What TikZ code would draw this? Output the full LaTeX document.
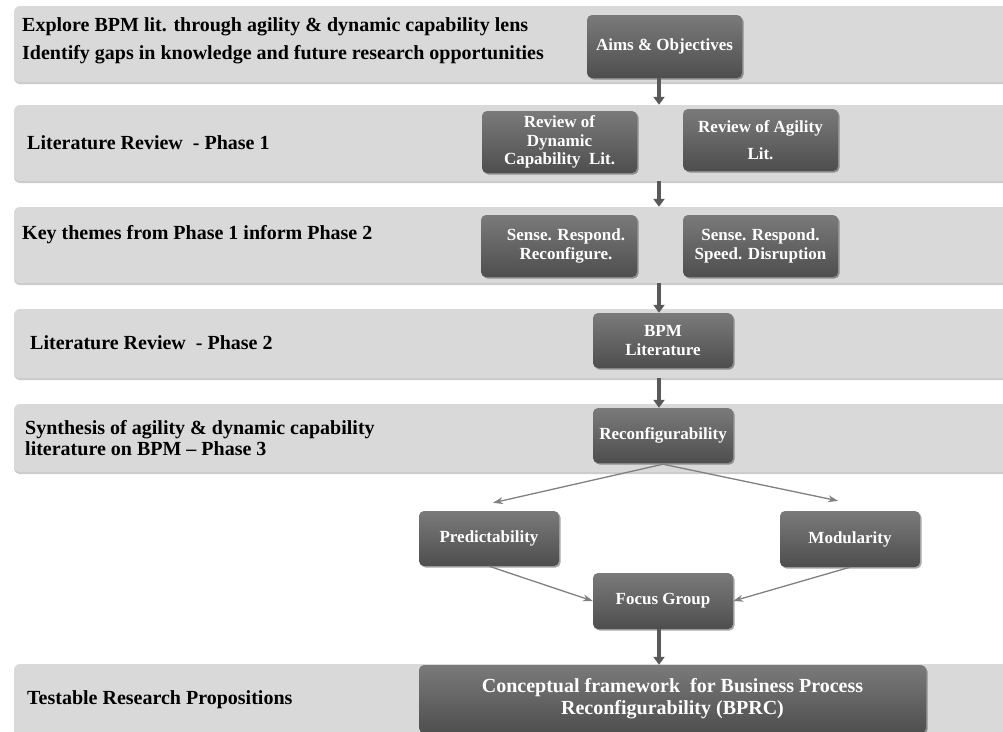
\documentclass[tikz,border=0pt]{standalone}
\usepackage{fontspec}
\setmainfont{Liberation Serif}
\usetikzlibrary{arrows.meta,shadows,calc}

\definecolor{bandgray}{RGB}{217,217,217}
\definecolor{boxtop}{RGB}{122,122,122}
\definecolor{boxbot}{RGB}{78,78,78}
\definecolor{spinegray}{RGB}{89,89,89}
\definecolor{thingray}{RGB}{128,128,128}

\tikzset{
  band/.style={fill=bandgray, rounded corners=6pt, inner sep=0pt,
    minimum width=998pt,
    drop shadow={shadow xshift=0pt, shadow yshift=-2pt, opacity=0.45, fill=black!45}},
  stagebox/.style={rounded corners=5pt, top color=boxtop, bottom color=boxbot,
    text=white, align=center, inner sep=0pt,
    font=\bfseries\fontsize{17}{18.5}\selectfont,
    drop shadow={shadow xshift=1.5pt, shadow yshift=-1.5pt, opacity=0.35, fill=black}},
  lbl/.style={anchor=west, align=left, inner sep=0pt,
    font=\bfseries\fontsize{20}{24}\selectfont},
  spinearrow/.style={draw=spinegray, line width=3.5pt,
    -{Triangle[width=11pt,length=8pt]}},
  thinarrow/.style={draw=thingray, line width=1.3pt,
    -{Stealth[length=10pt,width=7pt]}}
}

\begin{document}
\begin{tikzpicture}[x=1pt,y=-1pt]
\useasboundingbox (0,0) rectangle (1003,731);

% phase bands
\node[band, minimum height=76pt] (b1) at (513,44) {};
\node[band, minimum height=76pt] (b2) at (513,143) {};
\node[band, minimum height=76pt] (b3) at (513,245) {};
\node[band, minimum height=69pt] (b4) at (513,343.5) {};
\node[band, minimum height=68pt] (b5) at (513,438) {};
\node[band, minimum height=81pt] (b6) at (513,704.5) {};

% phase labels
\node[lbl, font=\bfseries\fontsize{20}{28}\selectfont] (l1) at (22,41)
  {Explore BPM lit. through agility \& dynamic capability lens\\
   Identify gaps in knowledge and future research opportunities};
\node[lbl] (l2) at (27,143) {Literature Review\ \ - Phase 1};
\node[lbl] (l3) at (22,235) {Key themes from Phase 1 inform Phase 2};
\node[lbl] (l4) at (30,343) {Literature Review\ \ - Phase 2};
\node[lbl, font=\bfseries\fontsize{20}{21}\selectfont] (l5) at (25,438.5)
  {Synthesis of agility \& dynamic capability\\
   literature on BPM -- Phase 3};
\node[lbl] (l6) at (27,700) {Testable Research Propositions};

% stage boxes
\node[stagebox, minimum width=155pt, minimum height=63pt] (aims) at (664.5,46.5)
  {Aims \& Objectives};
\node[stagebox, minimum width=155pt, minimum height=62pt] (dyn) at (559.5,142)
  {Review of\\Dynamic\\Capability\ \ Lit.};
\node[stagebox, minimum width=155pt, minimum height=62pt] (agi) at (760.5,140)
  {Review of Agility\\[8.5pt]Lit.};
\node[stagebox, minimum width=156pt, minimum height=62pt] (srr) at (559,246)
  {\hspace*{14pt}Sense. Respond.\\\hspace*{14pt}Reconfigure.};
\node[stagebox, minimum width=155pt, minimum height=62pt] (srs) at (760.5,246)
  {Sense. Respond.\\Speed. Disruption};
\node[stagebox, minimum width=140pt, minimum height=55pt] (bpm) at (663,340.5)
  {BPM\\Literature};
\node[stagebox, minimum width=140pt, minimum height=55pt] (reconf) at (663,435.5)
  {Reconfigurability};
\node[stagebox, minimum width=140pt, minimum height=55pt] (pred) at (489,538.5)
  {Predictability};
\node[stagebox, minimum width=140pt, minimum height=56pt] (mod) at (850,539)
  {Modularity};
\node[stagebox, minimum width=140pt, minimum height=56pt] (focus) at (663,601)
  {Focus Group};
\node[stagebox, minimum width=507pt, minimum height=68pt,
  font=\bfseries\fontsize{20}{22}\selectfont] (final) at (672.5,699)
  {Conceptual framework\ \ for Business Process\\Reconfigurability (BPRC)};

% main flow arrows
\coordinate (spine) at (659,0);
\draw[spinearrow] (aims.south -| spine) -- (b2.north -| spine);
\draw[spinearrow] (b2.south -| spine) -- (b3.north -| spine);
\draw[spinearrow] (b3.south -| spine) -- (bpm.north -| spine);
\draw[spinearrow] (b4.south -| spine) -- (reconf.north -| spine);
\draw[spinearrow] (focus.south -| spine) -- (final.north -| spine);

% branching arrows
\draw[thinarrow] ([yshift=-1pt]reconf.south) -- ([shift={(4pt,8pt)}]pred.north);
\draw[thinarrow] ([yshift=-1pt]reconf.south) -- ([shift={(-12pt,10pt)}]mod.north);
\draw[thinarrow] (pred.south) -- (focus.west);
\draw[thinarrow] (mod.south) -- (focus.east);
\end{tikzpicture}
\end{document}
